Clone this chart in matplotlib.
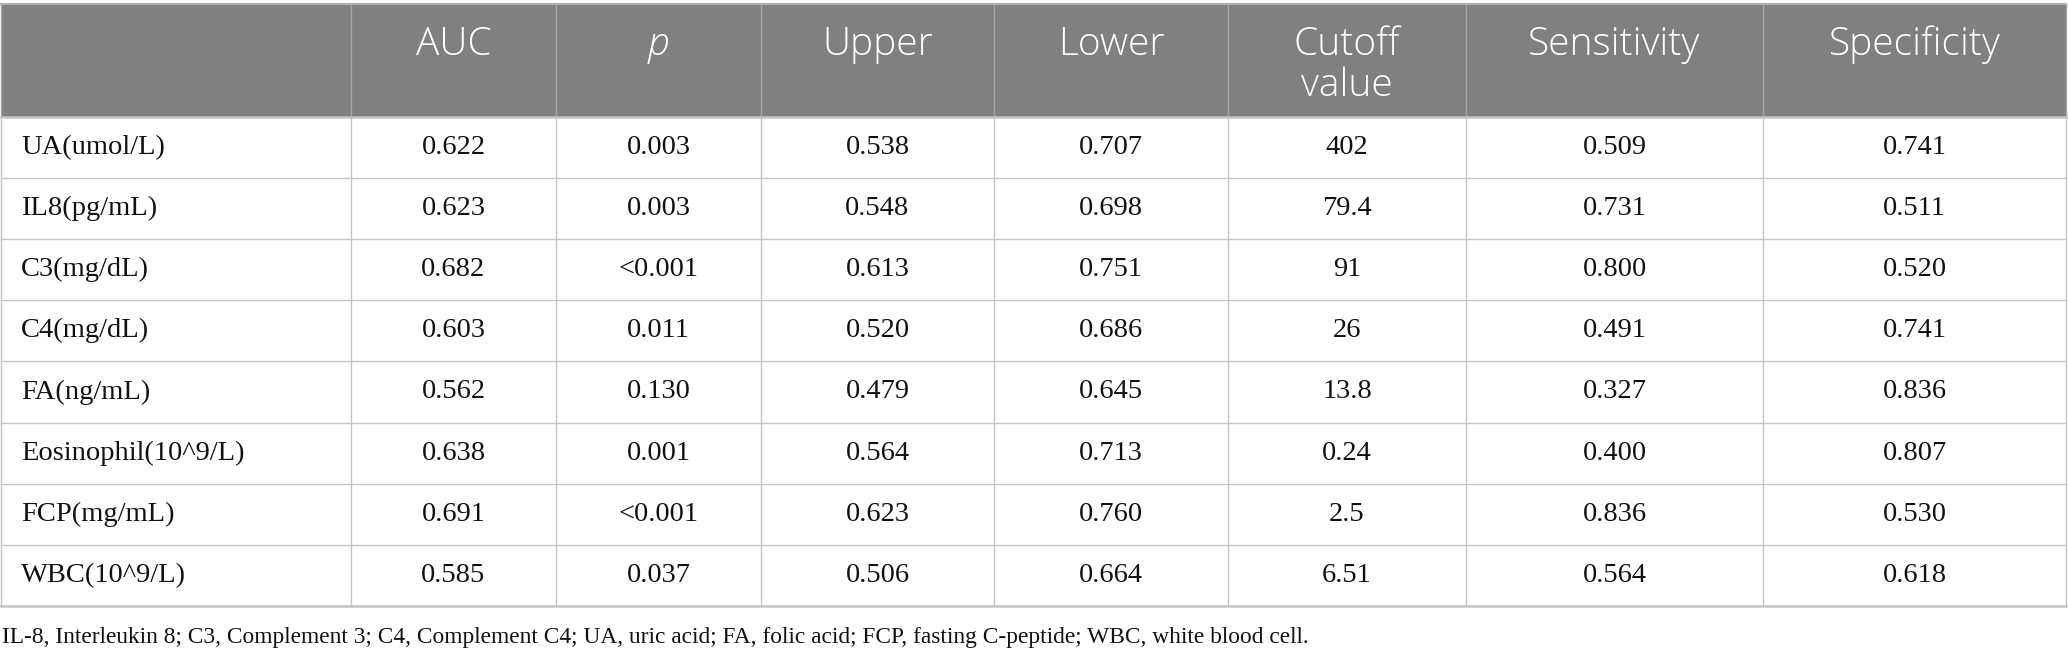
import matplotlib
matplotlib.use("Agg")
import matplotlib.pyplot as plt
from matplotlib.patches import Rectangle

headers = ["", "AUC", "p", "Upper", "Lower", "Cutoff\nvalue", "Sensitivity", "Specificity"]
variables = ["UA(umol/L)", "IL8(pg/mL)", "C3(mg/dL)", "C4(mg/dL)", "FA(ng/mL)",
             "Eosinophil(10^9/L)", "FCP(mg/mL)", "WBC(10^9/L)"]
auc = ["0.622", "0.623", "0.682", "0.603", "0.562", "0.638", "0.691", "0.585"]
p_values = ["0.003", "0.003", "<0.001", "0.011", "0.130", "0.001", "<0.001", "0.037"]
upper = ["0.538", "0.548", "0.613", "0.520", "0.479", "0.564", "0.623", "0.506"]
lower = ["0.707", "0.698", "0.751", "0.686", "0.645", "0.713", "0.760", "0.664"]
cutoff = ["402", "79.4", "91", "26", "13.8", "0.24", "2.5", "6.51"]
sensitivity = ["0.509", "0.731", "0.800", "0.491", "0.327", "0.400", "0.836", "0.564"]
specificity = ["0.741", "0.511", "0.520", "0.741", "0.836", "0.807", "0.530", "0.618"]
footnote = ("IL-8, Interleukin 8; C3, Complement 3; C4, Complement C4; UA, uric acid; "
            "FA, folic acid; FCP, fasting C-peptide; WBC, white blood cell.")

W, H = 2068, 658
fig = plt.figure(figsize=(W / 100, H / 100), dpi=100)
ax = fig.add_axes([0, 0, 1, 1])
ax.set_xlim(0, W)
ax.set_ylim(H, 0)
ax.axis("off")

col_edges = [1, 351, 556, 761, 994, 1228, 1466, 1763, 2066]
top = 4
head_bottom = 117
row_h = 61.1
n = len(variables)
bottom = head_bottom + n * row_h

header_bg = "#808080"
grid_c = "#c4c4c4"
serif = ["Liberation Serif", "DejaVu Serif"]
sans = ["Open Sans", "DejaVu Sans"]

ax.add_patch(Rectangle((col_edges[0], top), col_edges[-1] - col_edges[0], head_bottom - top,
                       facecolor=header_bg, edgecolor="none", zorder=1))

# grid lines
for i, x in enumerate(col_edges):
    ax.plot([x, x], [top, head_bottom], color="#a6a6a6", lw=1.0, zorder=2)
    ax.plot([x, x], [head_bottom, bottom], color=grid_c, lw=1.0, zorder=2)
ax.plot([col_edges[0], col_edges[-1]], [top, top], color="#b0b0b0", lw=1.5, zorder=3)
for r in range(n + 1):
    y = head_bottom + r * row_h
    ax.plot([col_edges[0], col_edges[-1]], [y, y], color=grid_c,
            lw=1.8 if r in (0, n) else 1.0, zorder=3)

# headers
for j, h in enumerate(headers):
    if not h:
        continue
    cx = (col_edges[j] + col_edges[j + 1]) / 2
    lines = h.split("\n")
    for k, line in enumerate(lines):
        ax.text(cx, 45 + k * 41, line, ha="center", va="center", color="white",
                fontsize=28, family=sans, fontweight="light",
                style="italic" if h == "p" else "normal", zorder=4)

cols = [auc, p_values, upper, lower, cutoff, sensitivity, specificity]
for i in range(n):
    cy = head_bottom + (i + 0.5) * row_h
    ax.text(col_edges[0] + 20, cy, variables[i], ha="left", va="center",
            fontsize=20.5, family=serif, color="#111111", zorder=4)
    for j, col in enumerate(cols):
        cx = (col_edges[j + 1] + col_edges[j + 2]) / 2
        ax.text(cx, cy, col[i], ha="center", va="center", fontsize=20.5,
                family=serif, color="#111111", zorder=4)

ax.text(2, 638, footnote, ha="left", va="center", fontsize=16.8, family=serif,
        color="#111111", zorder=4)

fig.savefig("out.png", dpi=100, facecolor="white")
